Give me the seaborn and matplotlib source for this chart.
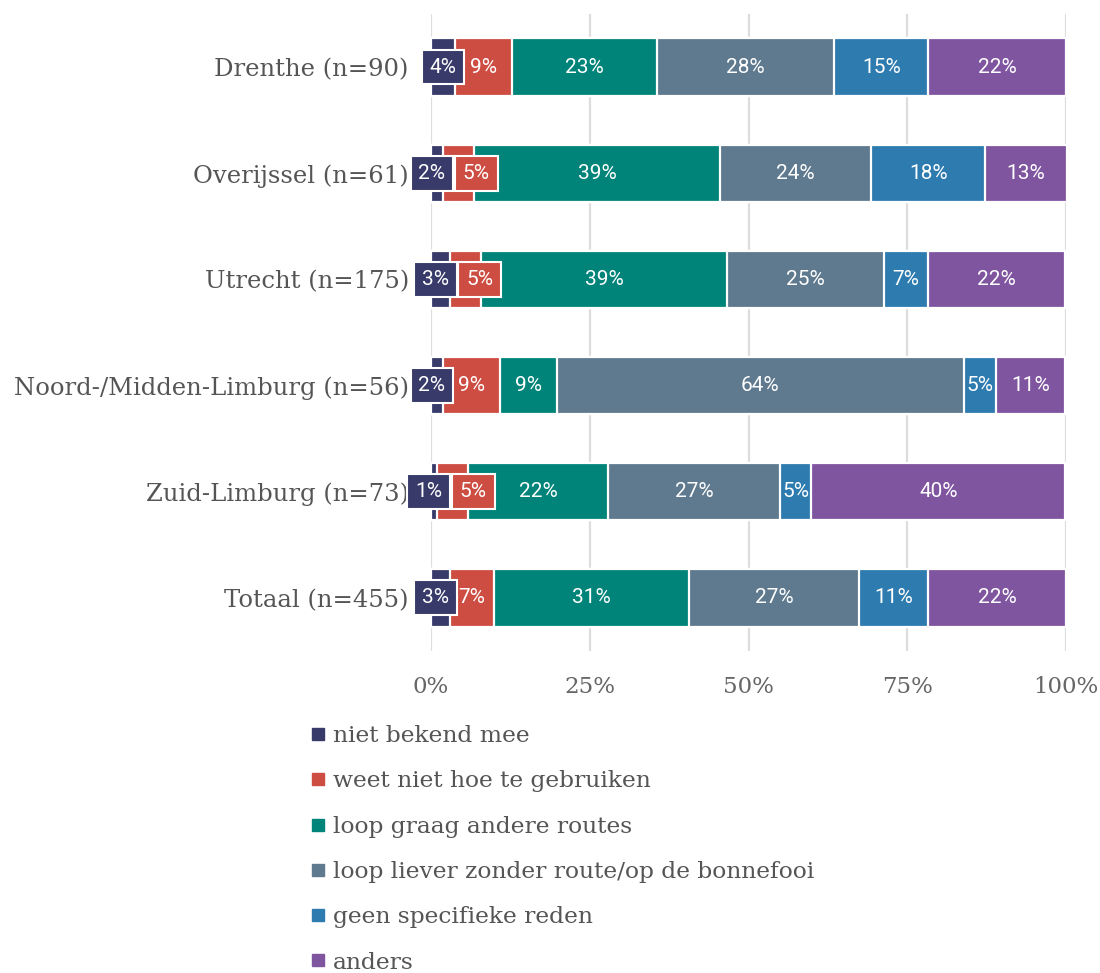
import matplotlib
matplotlib.use("Agg")
import matplotlib.pyplot as plt
from matplotlib.lines import Line2D
import seaborn as sns
import pandas as pd
import numpy as np

regions = ["Drenthe (n=90)", "Overijssel (n=61)", "Utrecht (n=175)",
           "Noord-/Midden-Limburg (n=56)", "Zuid-Limburg (n=73)", "Totaal (n=455)"]
series = ["niet bekend mee", "weet niet hoe te gebruiken", "loop graag andere routes",
          "loop liever zonder route/op de bonnefooi", "geen specifieke reden", "anders"]
niet_bekend = [3.8, 1.9, 3.0, 1.9, 0.9, 3.0]
weet_niet = [9.0, 4.9, 4.9, 9.0, 5.0, 6.9]
graag_andere = [22.8, 38.7, 38.7, 8.9, 22.0, 30.7]
zonder_route = [27.9, 23.8, 24.7, 64.1, 27.0, 26.8]
geen_reden = [14.8, 18.0, 6.9, 5.0, 5.0, 10.9]
anders = [21.7, 12.8, 21.7, 11.0, 40.0, 21.7]
values = [niet_bekend, weet_niet, graag_andere, zonder_route, geen_reden, anders]
colors = ["#383b6a", "#cd4d42", "#00847a", "#5f7a8e", "#2e7bb0", "#7f55a0"]
ticks = [0, 25, 50, 75, 100]
tick_labels = ["0%", "25%", "50%", "75%", "100%"]

sns.set_theme(style="white")
serif = ["DejaVu Serif"]
plt.rcParams["font.family"] = serif

W, H = 1100, 973
fig = plt.figure(figsize=(11, 9.73), dpi=100)
ax = fig.add_axes([431 / W, 1 - 651 / H, 635 / W, (651 - 14) / H])

data = np.array(values)  # series x regions
cum = np.cumsum(data, axis=0)

# draw cumulative bars from the widest to the narrowest
for k in range(len(series) - 1, -1, -1):
    df = pd.DataFrame({"region": regions, "value": cum[k]})
    sns.barplot(data=df, y="region", x="value", order=regions, color=colors[k],
                orient="h", width=0.54, edgecolor="white", linewidth=1.6,
                saturation=1, ax=ax, zorder=2)

ax.set_xlim(0, 100)
ax.set_ylim(5.5, -0.5)
ax.set_xticks(ticks)
ax.set_xticklabels(tick_labels, fontsize=16.5, color="#666666", family=serif)
ax.set_xlabel("")
ax.set_ylabel("")
ax.tick_params(axis="x", length=0, pad=18)
ax.tick_params(axis="y", length=0, pad=16)
for lab in ax.get_yticklabels():
    lab.set_fontsize(17.5)
    lab.set_color("#555555")
    lab.set_family(serif)
for s in ax.spines.values():
    s.set_visible(False)
ax.grid(axis="x", color="#dddddd", linewidth=1.6)
ax.grid(axis="y", visible=False)
ax.set_axisbelow(True)

lab_font = dict(family=["Roboto", "DejaVu Sans"], fontsize=15, color="white")
for i in range(len(regions)):
    start = 0.0
    navy_c = None
    for k in range(len(series)):
        v = data[k, i]
        c = start + v / 2
        txt = f"{round(v):.0f}%"
        if k == 0:
            navy_c = max(v / 2 - 0.8, v / 2 if v > 3.5 else -1)
            ax.text(navy_c, i, txt, ha="center", va="center", zorder=5,
                    bbox=dict(boxstyle="square,pad=0.38", fc=colors[k], ec="white", lw=1.5),
                    **lab_font)
        elif k == 1 and v < 6:
            ax.text(navy_c + 7.0, i, txt, ha="center", va="center", zorder=5,
                    bbox=dict(boxstyle="square,pad=0.38", fc=colors[k], ec="white", lw=1.5),
                    **lab_font)
        else:
            ax.text(c, i, txt, ha="center", va="center", zorder=5, **lab_font)
        start += v

handles = [Line2D([0], [0], marker="s", linestyle="none", markersize=9,
                  markerfacecolor=col, markeredgecolor=col) for col in colors]
leg = fig.legend(handles, series, loc="upper left",
                 bbox_to_anchor=(312 / W, 1 - 725 / H), frameon=False,
                 prop=dict(family=serif, size=16.8), labelcolor="#555555",
                 handlelength=0.5, handletextpad=0.4, labelspacing=1.0,
                 borderaxespad=0, borderpad=0)

fig.savefig("out.png", dpi=100)
